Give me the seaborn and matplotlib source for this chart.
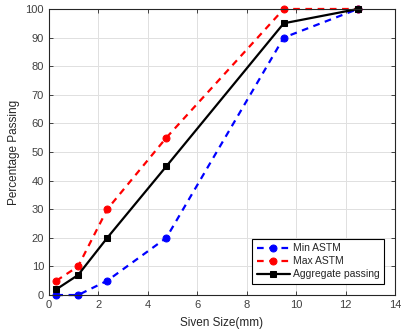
import numpy as np
import pandas as pd
import matplotlib
matplotlib.use("Agg")
import matplotlib.pyplot as plt
import seaborn as sns

# Dados
sieve_size = [0.3, 1.18, 2.36, 4.75, 9.5, 12.5]
min_astm = [0, 0, 5, 20, 90, 100]
max_astm = [5, 10, 30, 55, 100, 100]
aggregate = [2, 7, 20, 45, 95, 100]

sns.set_style("whitegrid")
plt.rcParams['font.family'] = ['Liberation Sans', 'DejaVu Sans']
plt.rcParams['font.size'] = 8

fig = plt.figure(figsize=(4.01, 3.33), dpi=100)
ax = fig.add_axes([0.122, 0.114, 0.863, 0.859])

series = [
    (min_astm, 'Min ASTM', '#0000ff', (3, 2.5)),
    (max_astm, 'Max ASTM', '#ff0000', (3, 2.5)),
    (aggregate, 'Aggregate passing', 'black', None),
]
for vals, label, color, dash in series:
    df = pd.DataFrame({'x': sieve_size, 'y': vals})
    sns.lineplot(data=df, x='x', y='y', ax=ax, color=color, label=label,
                 marker='o' if dash else 's', markersize=5 if dash else 4.5,
                 markeredgecolor=color, linewidth=1.6)
    l = ax.lines[-1]
    l.set_clip_on(False)
    if dash:
        l.set_dashes(dash)

ax.set_xlim(0, 14)
ax.set_ylim(0, 100)
ax.set_xticks(np.arange(0, 15, 2))
ax.set_yticks(np.arange(0, 101, 10))
ax.grid(True, color='#e0e0e0', linewidth=0.7)
ax.set_facecolor('white')
for s in ax.spines.values():
    s.set_color('#262626')
    s.set_linewidth(0.8)
ax.tick_params(direction='in', length=3, top=True, right=True, colors='#262626',
               labelcolor='#404040', labelsize=8, left=True, bottom=True, width=0.6)
ax.set_xlabel('Siven Size(mm)', fontsize=8.5, color='#262626', labelpad=5)
ax.set_ylabel('Percentage Passing', fontsize=8.5, color='#262626')

leg = ax.legend(loc='lower right', fontsize=7.5, frameon=True, fancybox=False,
                edgecolor='black', framealpha=1, handlelength=3.2,
                borderpad=0.4, labelspacing=0.3, handletextpad=0.3,
                borderaxespad=0, bbox_to_anchor=(0.968, 0.04))
leg.get_frame().set_linewidth(0.8)

fig.savefig('out.png', dpi=100)
